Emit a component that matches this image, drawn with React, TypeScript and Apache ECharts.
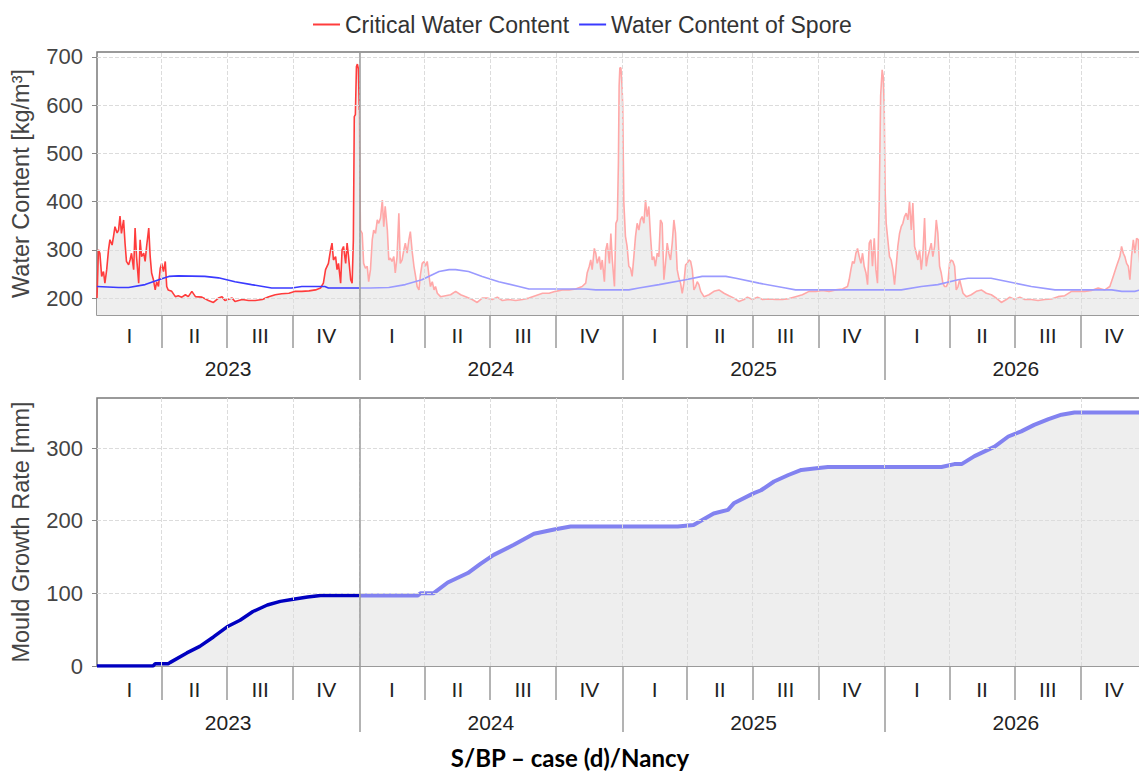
import React, { useEffect, useRef } from 'react';
import * as echarts from 'echarts';

// ---------- labels / ticks ----------
const yearLabels = ['2023', '2024', '2025', '2026'];
const quarterLabels = ['I', 'II', 'III', 'IV'];
const quarterStartDays = [0, 90, 181, 273, 365, 456, 547, 639, 731, 821, 912, 1004, 1096, 1186, 1277, 1369, 1461];
const yearStartDays = [0, 365, 731, 1096, 1461];
const currentDay = 365;
const waterTicks = [200, 300, 400, 500, 600, 700];
const mouldTicks = [0, 100, 200, 300];

// ---------- data: [day since 2023-01-01, value] ----------
const critical2023: [number, number][] = [
  [0, 200], [2, 300], [4, 293], [6.5, 245], [9, 255], [11, 231], [13.5, 259], [16, 300], [18, 321], [21, 310],
  [23, 328], [25, 348], [28, 335], [30, 341], [32, 370], [34, 334], [37, 362], [39, 314], [41, 276], [44, 269],
  [46, 279], [48, 293], [51, 259], [53, 345], [55, 286], [58, 231], [60, 321], [62, 286], [65, 293], [67, 276],
  [69, 307], [72, 345], [74, 286], [76, 252], [78.5, 238], [81, 217], [83, 234], [85.5, 224], [88, 262], [90, 272],
  [92.5, 255], [95, 276], [97, 224], [99, 217], [104, 214], [109, 203], [113, 205], [118, 202], [123, 207], [127, 203],
  [132, 214], [137, 203], [146, 202], [155, 195], [162, 191], [169, 200], [174, 203], [178, 195], [188, 200], [192, 193],
  [202, 197], [211, 195], [220, 195], [230, 197], [239, 203], [248, 207], [257, 209], [267, 210], [276, 214], [285, 214],
  [295, 215], [304, 217], [311, 221], [315, 231], [318, 259], [322, 272], [325, 300], [327, 314], [329, 279], [332, 286],
  [334, 259], [336, 272], [339, 231], [341, 300], [343, 307], [346, 272], [348, 314], [350, 286], [353, 238], [355, 231],
  [356.7, 320], [358, 576], [359.5, 580], [361, 680], [362.3, 685], [363.7, 675], [365, 590],
];
const criticalLater: [number, number][] = [
  [365, 590], [366.5, 341], [369, 334], [371, 272], [373.5, 262], [376, 266], [378, 234], [380.5, 259], [383, 321], [385, 341],
  [387.5, 334], [390, 362], [392, 355], [394.5, 366], [397, 403], [399, 348], [401, 390], [404, 341], [406, 279], [408, 283],
  [410.5, 276], [413, 286], [415, 252], [417.5, 286], [420, 376], [422, 272], [424.5, 279], [427, 300], [429, 314], [431.5, 293],
  [434, 321], [436, 338], [438.5, 297], [441, 266], [443, 248], [445.5, 224], [448, 217], [450, 248], [452.5, 272], [455, 276],
  [457, 266], [459.5, 276], [462, 245], [464, 224], [466.5, 234], [469, 217], [471, 224], [473.5, 210], [478, 203], [485, 205],
  [492, 207], [499, 214], [506, 207], [513, 203], [522, 197], [529, 191], [536, 200], [543, 200], [550, 197], [557, 202],
  [564, 195], [573, 197], [582.5, 195], [592, 197], [601, 200], [610, 205], [620, 210], [629, 210], [638, 214], [647.5, 217],
  [657, 217], [666, 219], [675, 224], [680, 231], [682, 252], [685, 266], [687, 279], [689, 259], [692, 303], [694, 293],
  [696, 272], [699, 286], [701, 259], [703, 279], [706, 234], [708, 300], [710, 314], [713, 272], [715, 334], [717, 279],
  [720, 224], [722, 355], [724, 362], [725.5, 480], [726.5, 640], [727.5, 677], [729, 677], [730.5, 640], [731.5, 597], [733, 400],
  [735.3, 328], [737.6, 307], [740, 266], [742.3, 262], [744.6, 245], [747, 286], [749.3, 328], [751.6, 355], [754, 341], [756.2, 362],
  [758.5, 369], [761, 355], [763.2, 403], [765.5, 369], [767.8, 390], [770.2, 328], [772.5, 279], [774.8, 286], [777, 266], [779.5, 293],
  [781.8, 286], [784, 362], [786.4, 355], [788.8, 238], [791, 272], [793.4, 314], [795.7, 293], [798, 279], [800.4, 314], [802.7, 362],
  [805, 334], [807.3, 259], [809.7, 241], [812, 231], [814.3, 210], [816.6, 231], [819, 269], [821.3, 272], [823.6, 279], [826, 276],
  [828.3, 259], [830.6, 217], [833, 224], [835.2, 234], [837.5, 228], [840, 214], [844.5, 203], [851.5, 207], [858.4, 214], [865.4, 217],
  [872.4, 210], [879.3, 205], [886.3, 200], [893.3, 193], [900.2, 197], [905, 202], [912, 197], [919, 202], [926, 197], [935, 198],
  [944.4, 197], [953.7, 197], [963, 199], [972, 203], [981.5, 207], [990.8, 214], [1000, 214], [1009.4, 216], [1018.7, 214], [1028, 217],
  [1037.3, 219], [1044.3, 224], [1046.6, 238], [1049, 259], [1051.3, 276], [1053.6, 272], [1056, 293], [1058.2, 303], [1060.6, 286], [1063, 272],
  [1065.2, 293], [1067.5, 266], [1070, 252], [1072.2, 228], [1074.5, 314], [1076.8, 321], [1079, 266], [1081.5, 324], [1083.8, 259], [1086, 231],
  [1088.4, 400], [1090.4, 620], [1092.5, 673], [1093.9, 660], [1095.3, 600], [1096.7, 420], [1098.1, 355], [1100.4, 321], [1102.7, 286], [1105, 279],
  [1107.4, 259], [1109.7, 228], [1112, 266], [1114.3, 307], [1116.7, 334], [1119, 348], [1121.3, 355], [1123.6, 369], [1126, 376], [1128.3, 362],
  [1130.6, 400], [1133, 341], [1135.2, 397], [1137.6, 307], [1140, 293], [1142.2, 279], [1144.5, 300], [1147, 259], [1149.2, 293], [1151.5, 366],
  [1153.8, 266], [1156, 286], [1158.5, 300], [1160.8, 314], [1163, 286], [1165.4, 307], [1167.8, 362], [1170, 334], [1172.4, 266], [1174.7, 252],
  [1177, 231], [1179.4, 224], [1181.7, 224], [1184, 231], [1186.3, 272], [1188.7, 279], [1191, 276], [1193.3, 266], [1195.6, 217], [1198, 224],
  [1200.3, 238], [1202.6, 224], [1205, 210], [1209.6, 203], [1216.5, 207], [1223.5, 214], [1230.5, 217], [1237.4, 210], [1244.4, 207], [1251.4, 200],
  [1258.3, 191], [1265.3, 197], [1270, 202], [1277, 197], [1284, 202], [1291, 197], [1300, 197], [1309.4, 195], [1318.7, 197], [1328, 198],
  [1337.3, 203], [1346.6, 205], [1356, 214], [1365, 214], [1374.5, 214], [1383.7, 216], [1393, 221], [1402.3, 217], [1409.3, 224], [1414, 245],
  [1418.6, 266], [1423.3, 286], [1425.6, 307], [1428, 293], [1430.2, 286], [1432.6, 272], [1435, 266], [1437.2, 238], [1439.5, 286], [1442, 321],
  [1444.2, 293], [1446.5, 324], [1448.8, 321], [1451.2, 266], [1455, 300], [1461, 290],
];
const spore2023: [number, number][] = [
  [0, 224], [30, 222], [44, 222], [67, 228], [80, 235], [90, 240], [100, 245], [113, 246], [150, 245], [169, 242],
  [192, 234], [215, 228], [243, 221], [271, 221], [285, 224], [317, 224], [322, 221], [365, 221],
];
const sporeLater: [number, number][] = [
  [365, 221], [380, 221], [406, 222], [429, 228], [452, 238], [476, 255], [490, 259], [499, 259], [517, 255], [536, 245],
  [559, 234], [587, 224], [601, 219], [680, 219], [694, 217], [731, 217], [740, 217], [754, 221], [782, 228], [819, 238],
  [842, 245], [875, 245], [889, 241], [921, 231], [958, 221], [972, 217], [1096, 217], [1119, 217], [1147, 224], [1170, 228],
  [1198, 238], [1212, 241], [1244, 241], [1268, 234], [1300, 224], [1333, 217], [1412, 217], [1426, 214], [1444, 214], [1452, 217],
  [1461, 217],
];
const mould2023: [number, number][] = [
  [0, 0], [78, 0], [81, 3], [99, 3], [102, 5], [125, 18], [143, 27], [162, 40], [181, 54], [199, 63],
  [217, 75], [237, 84], [255, 89], [273, 92], [293, 95], [311, 97], [365, 97],
];
const mouldLater: [number, number][] = [
  [365, 97], [394, 97], [446, 97], [450, 100], [468, 100], [488, 115], [516, 128], [534, 141], [552, 153], [580, 167],
  [608, 182], [636, 188], [659, 192], [808, 192], [830, 194], [858, 210], [878, 215], [886, 224], [914, 238], [924, 242],
  [942, 254], [962, 263], [980, 270], [998, 272], [1017, 274], [1175, 274], [1193, 278], [1203, 278], [1221, 289], [1249, 302],
  [1268, 316], [1286, 323], [1304, 332], [1324, 340], [1342, 346], [1360, 349], [1461, 349],
];

const FONT = '"Liberation Sans", Arial, sans-serif';
const SERIES_CRIT = 'Critical Water Content';
const SERIES_SPORE = 'Water Content of Spore';

function mids(starts: number[]) {
  return starts.slice(0, -1).map((d, i) => (d + starts[i + 1]) / 2);
}

function nearestIndex(arr: number[], v: number) {
  let best = 0;
  for (let i = 1; i < arr.length; i++) if (Math.abs(arr[i] - v) < Math.abs(arr[best] - v)) best = i;
  return best;
}

export default function App() {
  const ref = useRef<HTMLDivElement>(null);

  useEffect(() => {
    document.body.style.margin = '0';
    document.documentElement.style.overflow = 'hidden';
    document.body.style.overflow = 'hidden';
    if (!ref.current) return;
    const chart = echarts.init(ref.current, undefined, { renderer: 'svg' });

    const qMids = mids(quarterStartDays);
    const yMids = mids(yearStartDays);
    const qBounds = quarterStartDays.slice(1);
    const yBounds = yearStartDays.slice(1);

    const grids = [
      { left: 97, top: 52, width: 1050, height: 263, qMargin: 10, yOffset: 33, yMargin: 10 },
      { left: 97, top: 398, width: 1050, height: 268, qMargin: 13, yOffset: 34, yMargin: 12 },
    ];

    const xAxes: any[] = [];
    grids.forEach((gr, g) => {
      xAxes.push({ type: 'value', gridIndex: g, min: 0, max: 1461, show: false });
      xAxes.push({
        type: 'value', gridIndex: g, min: 0, max: 1461, position: 'bottom',
        axisLine: { show: false }, splitLine: { show: false },
        axisTick: { show: true, customValues: qBounds, length: gr.yOffset, lineStyle: { color: '#9a9a9a', width: 1.5 } },
        axisLabel: {
          customValues: qMids, margin: gr.qMargin, fontSize: 21, color: '#222', fontFamily: FONT,
          formatter: (v: number) => quarterLabels[nearestIndex(qMids, v) % 4],
        },
      });
      xAxes.push({
        type: 'value', gridIndex: g, min: 0, max: 1461, position: 'bottom', offset: gr.yOffset,
        axisLine: { show: false }, splitLine: { show: false },
        axisTick: { show: true, customValues: yBounds, length: 32, lineStyle: { color: '#9a9a9a', width: 1.5 } },
        axisLabel: {
          customValues: yMids, margin: gr.yMargin, fontSize: 21, color: '#222', fontFamily: FONT,
          formatter: (v: number) => yearLabels[nearestIndex(yMids, v)],
        },
      });
    });

    const yAxisCommon = {
      type: 'value', axisLine: { show: false }, splitLine: { show: false },
      nameLocation: 'middle', nameGap: 64,
      nameTextStyle: { fontSize: 23.5, color: '#444', fontFamily: FONT },
    };
    const yAxes: any[] = [
      {
        ...yAxisCommon, gridIndex: 0, min: 165, max: 710, name: 'Water Content [kg/m³]',
        axisTick: { show: true, customValues: waterTicks, length: 5, lineStyle: { color: '#888' } },
        axisLabel: { customValues: waterTicks, margin: 14, fontSize: 22, color: '#444', fontFamily: FONT },
      },
      {
        ...yAxisCommon, gridIndex: 1, min: 0, max: 369, name: 'Mould Growth Rate [mm]',
        axisTick: { show: true, customValues: mouldTicks, length: 5, lineStyle: { color: '#888' } },
        axisLabel: { customValues: mouldTicks, margin: 14, fontSize: 22, color: '#444', fontFamily: FONT },
      },
    ];

    const guideLines = (ticks: number[]) => ({
      silent: true, symbol: 'none', label: { show: false },
      data: [
        ...ticks.map((v) => ({ yAxis: v, lineStyle: { color: '#dcdcdc', type: 'dashed', width: 1 } })),
        ...qBounds.slice(0, -1).map((d) => ({ xAxis: d, lineStyle: { color: '#dcdcdc', type: 'dashed', width: 1 } })),
        { xAxis: currentDay, lineStyle: { color: '#9a9a9a', type: 'solid', width: 1.5 } },
      ],
    });

    const grey = '#eeeeee';
    const series: any[] = [
      {
        name: SERIES_CRIT, type: 'line', xAxisIndex: 0, yAxisIndex: 0, data: critical2023, symbol: 'none',
        color: '#ff3c3c', lineStyle: { color: '#ff3c3c', width: 1.6 }, areaStyle: { color: grey, opacity: 1, origin: 'start' }, z: 2,
      },
      {
        name: SERIES_CRIT, type: 'line', xAxisIndex: 0, yAxisIndex: 0, data: criticalLater, symbol: 'none',
        color: '#ffa8a8', lineStyle: { color: '#ffa8a8', width: 1.6 }, areaStyle: { color: grey, opacity: 1, origin: 'start' }, z: 2,
      },
      {
        name: SERIES_SPORE, type: 'line', xAxisIndex: 0, yAxisIndex: 0, data: spore2023, symbol: 'none',
        color: '#3a3aff', lineStyle: { color: '#3a3aff', width: 1.6 }, z: 3,
      },
      {
        name: SERIES_SPORE, type: 'line', xAxisIndex: 0, yAxisIndex: 0, data: sporeLater, symbol: 'none',
        color: '#9a9aff', lineStyle: { color: '#9a9aff', width: 1.6 }, z: 3,
      },
      {
        name: 'guides-top', type: 'line', xAxisIndex: 0, yAxisIndex: 0, data: [], z: 4,
        markLine: guideLines(waterTicks),
      },
      {
        name: 'Mould Growth', type: 'line', xAxisIndex: 3, yAxisIndex: 1, data: mould2023, symbol: 'none',
        color: '#0000c0', lineStyle: { color: '#0000c0', width: 3.5 }, areaStyle: { color: grey, opacity: 1, origin: 'start' }, z: 2,
      },
      {
        name: 'Mould Growth', type: 'line', xAxisIndex: 3, yAxisIndex: 1, data: mouldLater, symbol: 'none',
        color: '#8282f0', lineStyle: { color: '#8282f0', width: 4 }, areaStyle: { color: grey, opacity: 1, origin: 'start' }, z: 2,
      },
      {
        name: 'guides-bottom', type: 'line', xAxisIndex: 3, yAxisIndex: 1, data: [], z: 4,
        markLine: guideLines(mouldTicks.filter((v) => v > 0)),
      },
    ];

    chart.setOption({
      animation: false,
      backgroundColor: '#ffffff',
      textStyle: { fontFamily: FONT },
      legend: {
        data: [SERIES_CRIT, SERIES_SPORE], left: 308, top: 8, itemWidth: 27, itemHeight: 2, itemGap: 10,
        icon: 'rect',
        textStyle: { fontSize: 23, color: '#333', fontFamily: FONT }, selectedMode: false,
      },
      grid: grids.map((g) => ({
        left: g.left, top: g.top, width: g.width, height: g.height, outerBoundsMode: 'none',
        show: true, borderColor: '#7a7a7a', borderWidth: 1.5, backgroundColor: 'transparent',
      })),
      xAxis: xAxes,
      yAxis: yAxes,
      series,
      graphic: [
        {
          type: 'text', x: 570, y: 757,
          style: {
            text: 'S/BP – case (d)/Nancy', textAlign: 'center', textVerticalAlign: 'middle',
            font: 'bold 24px Lato, "Liberation Sans", Arial, sans-serif', fill: '#000',
          },
        },
      ],
    });

    return () => chart.dispose();
  }, []);

  return <div ref={ref} style={{ width: 1150, height: 771 }} />;
}
